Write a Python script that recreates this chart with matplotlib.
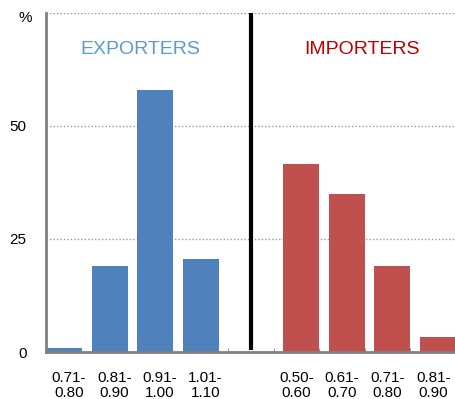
import matplotlib.pyplot as plt
import numpy as np

plt.rcParams['font.family'] = ['Liberation Sans', 'DejaVu Sans']

# data
exp_labels = ['0.71-\n0.80', '0.81-\n0.90', '0.91-\n1.00', '1.01-\n1.10']
imp_labels = ['0.50-\n0.60', '0.61-\n0.70', '0.71-\n0.80', '0.81-\n0.90']
exp_vals = [0.8, 19, 58, 20.5]
imp_vals = [41.5, 35, 19, 3.3]
exp_slots = [0, 1, 2, 3]
imp_slots = [5, 6, 7, 8]
divider_slot = 4.5

blue = '#4F81BD'
red = '#C0504D'
bw = 0.79

fig = plt.figure(figsize=(4.56, 3.99), dpi=100)
ax = fig.add_axes([46/456, 1 - 352/399, 410/456, 339/399])

ax.bar(np.array(exp_slots), exp_vals, width=bw, align='edge', color=blue, zorder=3)
ax.bar(np.array(imp_slots) + 1 - bw, imp_vals, width=bw, align='edge', color=red, zorder=3)

ax.plot([divider_slot, divider_slot], [0.5, 75], color='black', lw=3, zorder=4,
        solid_capstyle='butt')

ax.set_xlim(0, 9)
ax.set_ylim(0, 75)
ax.set_yticks([0, 25, 50])
ax.set_yticklabels(['0', '25', '50'], fontsize=11)
ax.tick_params(axis='y', length=0, pad=14)

centers = np.array(exp_slots + imp_slots) + 0.5
ax.set_xticks(centers)
ax.set_xticklabels(exp_labels + imp_labels, fontsize=11, linespacing=1.05)
ax.tick_params(axis='x', length=0, pad=14)
ax.set_xticks(np.arange(0, 10), minor=True)
ax.tick_params(axis='x', which='minor', length=3, direction='in', color='#808080')

for y in [25, 50, 75]:
    ax.axhline(y, color='#999999', lw=1, ls=(0, (1, 1.5)), zorder=1)

for s in ['top', 'right']:
    ax.spines[s].set_visible(False)
for s in ['left', 'bottom']:
    ax.spines[s].set_color('#808080')
    ax.spines[s].set_linewidth(2)
    ax.spines[s].set_zorder(5)

ax.text(2.07, 67, 'EXPORTERS', color='#5B9BD5', fontsize=14, ha='center', va='center')
ax.text(6.93, 67, 'IMPORTERS', color='#C00000', fontsize=14, ha='center', va='center')
fig.text(25/456, 1 - 18/399, '%', fontsize=11, ha='center', va='center')

fig.savefig('out.png', dpi=100)
